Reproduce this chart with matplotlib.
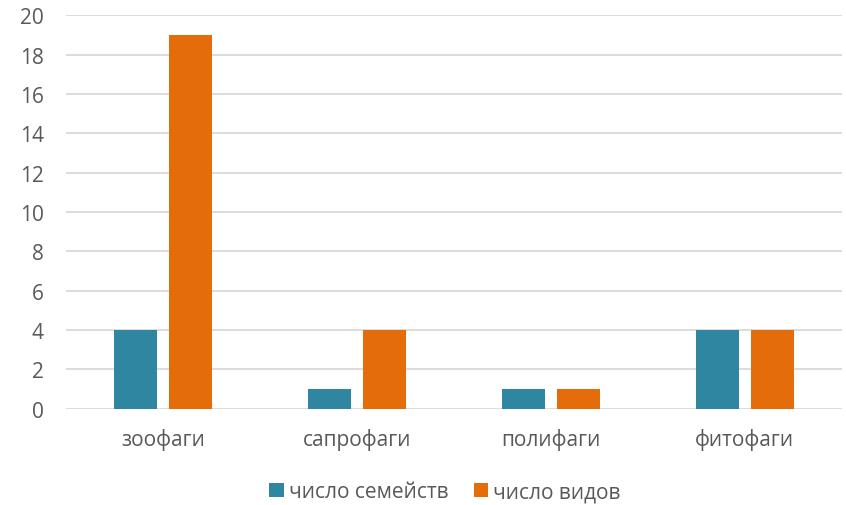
import matplotlib
matplotlib.use("Agg")
import matplotlib.pyplot as plt
import numpy as np

plt.rcParams['font.family'] = ['Open Sans', 'DejaVu Sans']

categories = ["зоофаги", "сапрофаги", "полифаги", "фитофаги"]
families = [4, 1, 1, 4]
species = [19, 4, 1, 4]
series_names = ["число семейств", "число видов"]
yticks = [0, 2, 4, 6, 8, 10, 12, 14, 16, 18, 20]

teal = "#2E86A0"
orange = "#E46C0A"
text_color = "#595959"
grid_color = "#D9D9D9"

fig = plt.figure(figsize=(8.46, 5.06), dpi=100)
ax = fig.add_axes([0.078, 0.19, 0.917, 0.778])

x = np.arange(len(categories))
w = 0.222
off = 0.142
ax.bar(x - off, families, width=w, color=teal, label=series_names[0], zorder=3)
ax.bar(x + off, species, width=w, color=orange, label=series_names[1], zorder=3)

ax.set_xlim(-0.5, len(categories) - 0.5)
ax.set_ylim(0, 20)
ax.set_yticks(yticks)
ax.set_xticks(x)
ax.set_xticklabels(categories)
ax.yaxis.grid(True, color=grid_color, linewidth=1.3, zorder=0)
ax.set_axisbelow(True)
for s in ax.spines.values():
    s.set_visible(False)
ax.tick_params(axis='both', length=0, labelsize=15, colors=text_color)
ax.tick_params(axis='x', pad=14)
ax.tick_params(axis='y', pad=16)
for lbl in ax.get_yticklabels():
    lbl.set_horizontalalignment('right')

fig.legend(loc='center', bbox_to_anchor=(0.526, 0.026), ncol=2, frameon=False,
           fontsize=15, labelcolor=text_color, handlelength=0.7, handleheight=0.7,
           handletextpad=0.25, columnspacing=1.2)

fig.savefig("out.png", dpi=100)
